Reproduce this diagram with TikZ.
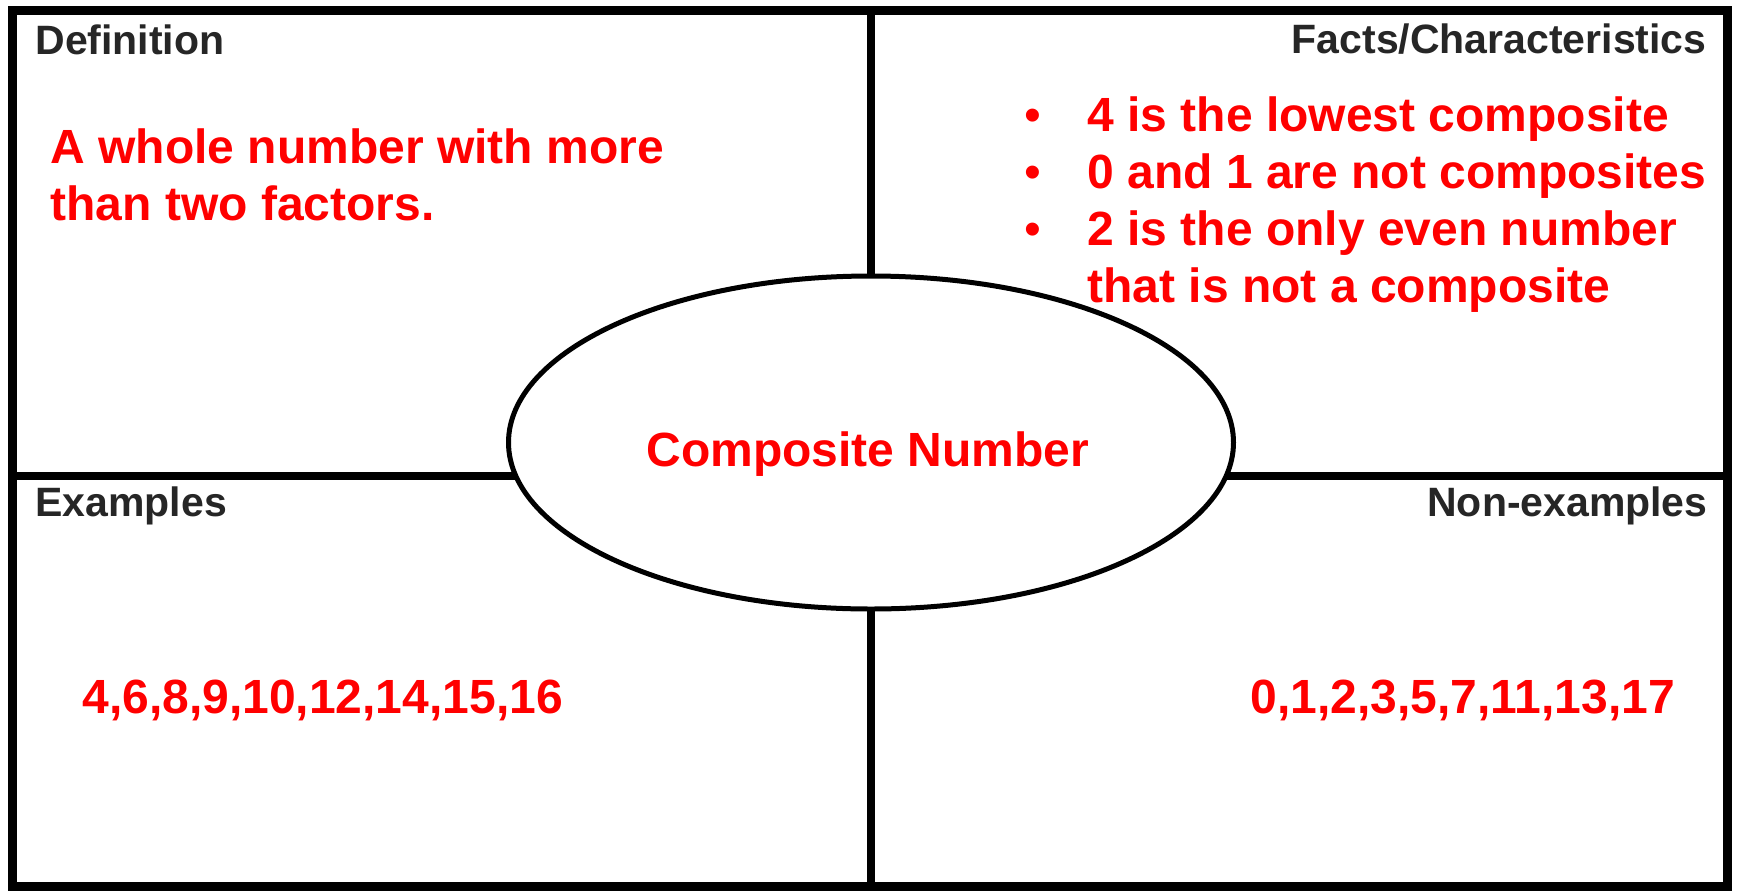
\documentclass[tikz,border=0pt]{standalone}
\usepackage{fontspec}
\setmainfont{Liberation Sans}
\usetikzlibrary{shapes.geometric}
\definecolor{txtred}{RGB}{255,0,0}
\definecolor{lblgray}{RGB}{38,38,38}
\begin{document}
\begin{tikzpicture}[x=0.5pt,y=-0.5pt,
  framebox/.style={line width=4.5pt},
  divider/.style={line width=4pt},
  lbl/.style={inner sep=0pt, text=lblgray, font=\fontsize{20.5pt}{24pt}\selectfont\bfseries},
  redtxt/.style={inner sep=0pt, text=txtred, font=\fontsize{24pt}{28.5pt}\selectfont\bfseries},
  bul/.style={inner sep=0pt, text=txtred, font=\fontsize{24pt}{28.5pt}\selectfont},
  centre/.style={draw, ellipse, line width=2.5pt, fill=white, minimum width=362.5pt, minimum height=166.5pt, inner sep=0pt}]
\fill[white] (0,0) rectangle (1737,890);
\useasboundingbox (0,0) rectangle (1737,890);
% frame corners and divider ends
\coordinate (TL) at (12,10);
\coordinate (BR) at (1727,886);
\coordinate (L) at (12,476);
\coordinate (R) at (1727,476);
\coordinate (T) at (871,10);
\coordinate (B) at (871,886);
\draw[divider] (L) -- (R);
\draw[divider] (T) -- (B);
\draw[framebox] (TL) rectangle (BR);
\node[centre] (ell) at (871,442.5) {};
% quadrant labels
\node[lbl, anchor=base west] (def) at (35,54) {Definition};
\node[lbl, anchor=base east] (facts) at (1707,53) {Facts/Characteristics};
\node[lbl, anchor=base west] (ex) at (35,516) {Examples};
\node[lbl, anchor=base east] (nonex) at (1708,516) {Non-examples};
% red content
\node[redtxt, anchor=base west] (defn) at (50,163) {\begin{tabular}[t]{@{}l@{}}A whole number with more\\than two factors.\end{tabular}};
\node[redtxt, anchor=base west] (factlist) at (1087,131) {\begin{tabular}[t]{@{}l@{}}4 is the lowest composite\\0 and 1 are not composites\\2 is the only even number\\that is not a composite\end{tabular}};
\node[bul, anchor=base] (b1) at (1033,131) {\textbullet};
\node[bul, anchor=base] (b2) at (1033,188) {\textbullet};
\node[bul, anchor=base] (b3) at (1033,245) {\textbullet};
\node[redtxt, anchor=base] (title) at (868,466) {Composite Number};
\node[redtxt, anchor=base west] (exnums) at (82,713) {4,6,8,9,10,12,14,15,16};
\node[redtxt, anchor=base west] (nonnums) at (1250,713) {0,1,2,3,5,7,11,13,17};
\end{tikzpicture}
\end{document}
